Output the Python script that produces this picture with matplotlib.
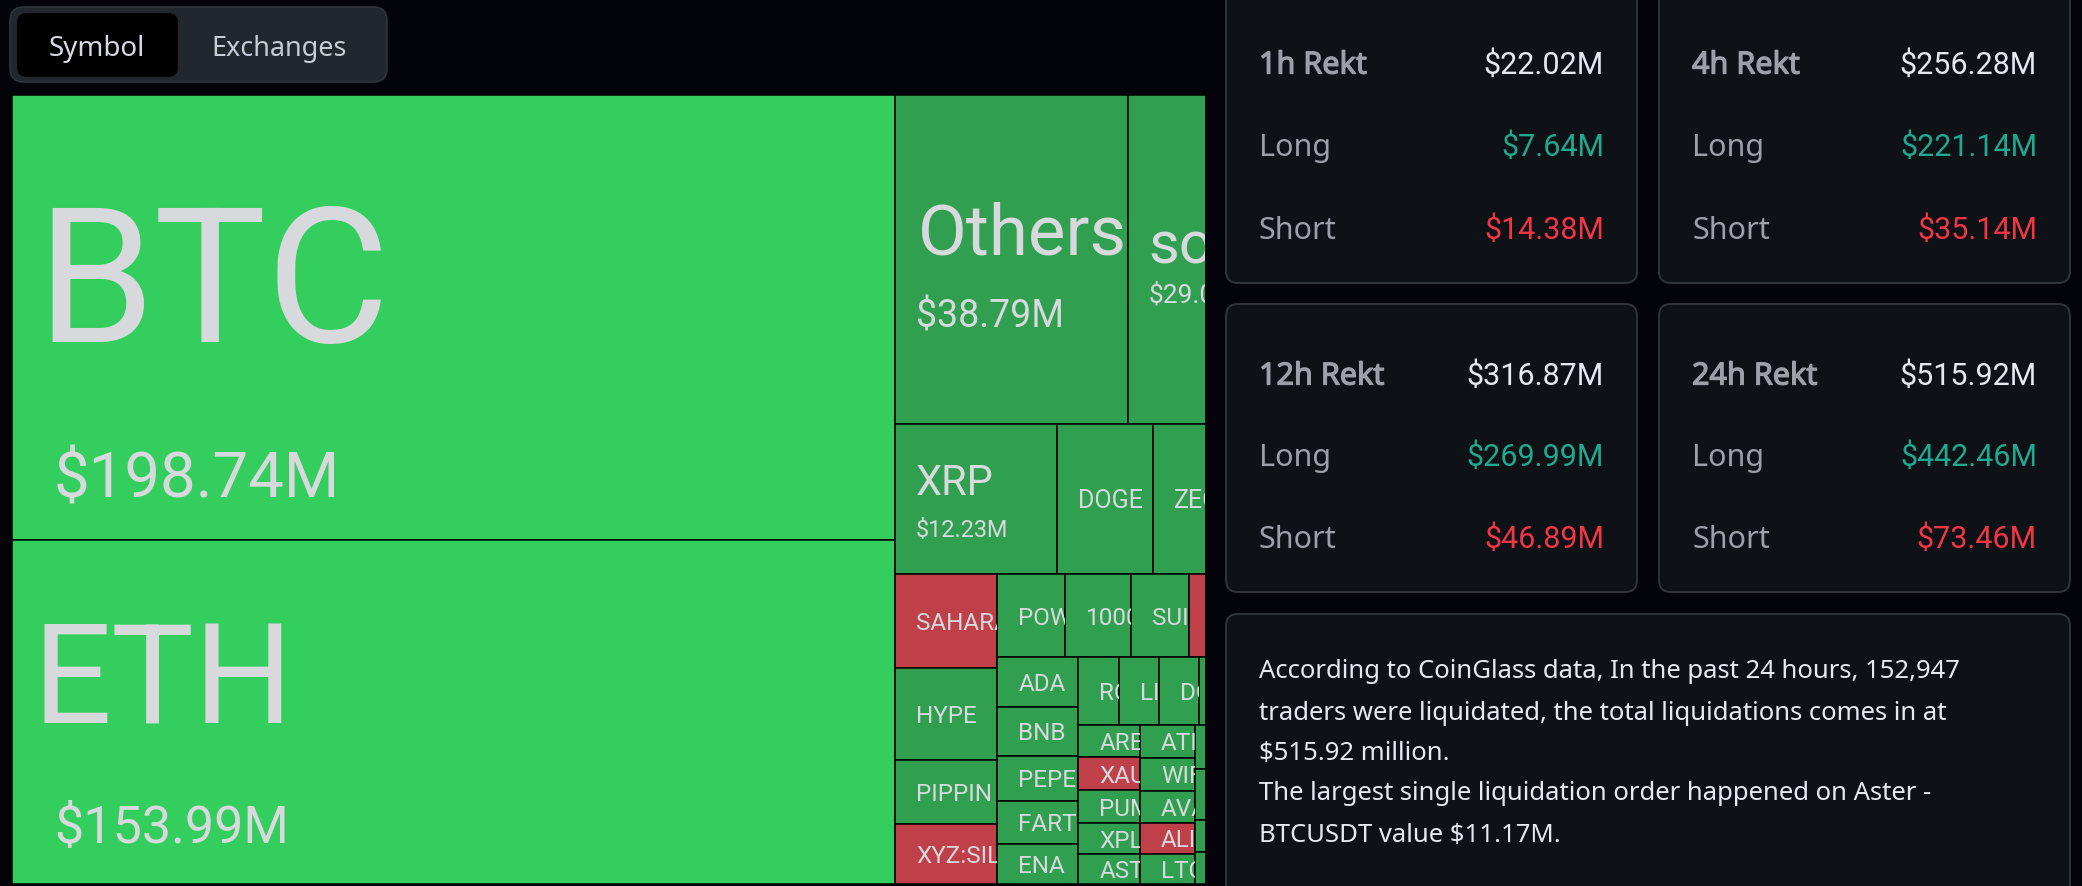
import matplotlib
matplotlib.use('Agg')
import matplotlib.pyplot as plt
import matplotlib.patheffects as pe
from matplotlib.patches import FancyBboxPatch, Rectangle

# treemap values in $M, grouped the way the layout nests them
main_names = ['BTC', 'ETH']
main_vals = [198.74, 153.99]
top_names = ['Others', 'sol']
top_vals = [38.79, 29.04]
mid_names = ['XRP', 'DOGE', 'ZEC']
mid_vals = [12.23, 7.25, 11.3]
left_names = ['SAHARA', 'HYPE', 'PIPPIN', 'XYZ:SILVER']
left_vals = [4.86, 4.75, 3.35, 3.08]
pow_names = ['POWER', '1000PEPE', 'SUI', 'cut1']
pow_vals = [2.88, 2.77, 2.5, 4.8]
ada_names = ['ADA', 'BNB', 'PEPE', 'FARTCOIN', 'ENA']
ada_vals = [2.03, 1.99, 1.85, 1.77, 1.64]
ro_names = ['ROSE', 'LINK', 'DOT', 'cut2']
ro_vals = [1.39, 1.36, 1.36, 3.5]
are_names = ['ARE', 'XAU', 'PUMP', 'XPL', 'ASTER']
are_vals = [1.02, 1.02, 1.02, 0.96, 0.93]
ati_names = ['ATI', 'WIF', 'AVAX', 'ALI', 'LTC']
ati_vals = [0.92, 0.92, 0.89, 0.86, 0.84]
tail_names = ['cut3', 'cut4', 'cut5', 'cut6']
tail_vals = [2.4, 2.8, 1.75, 1.75]

red_names = ['SAHARA', 'XYZ:SILVER', 'XAU', 'ALI', 'cut1']
bright_names = ['BTC', 'ETH']
# cells whose label lies past the cut-off edge
cut_names = ['cut1', 'cut2', 'cut3', 'cut4', 'cut5', 'cut6']

# the four summary cards
periods = ['1h Rekt', '4h Rekt', '12h Rekt', '24h Rekt']
totals = ['$22.02M', '$256.28M', '$316.87M', '$515.92M']
longs = ['$7.64M', '$221.14M', '$269.99M', '$442.46M']
shorts = ['$14.38M', '$35.14M', '$46.89M', '$73.46M']

summary_lines = [
    'According to CoinGlass data, In the past 24 hours, 152,947',
    'traders were liquidated, the total liquidations comes in at',
    '$515.92 million.',
    'The largest single liquidation order happened on Aster -',
    'BTCUSDT value $11.17M.',
]

BG = '#03040a'
CARD = '#0e1116'
CARD_EDGE = '#30343b'
BRIGHT = '#34ce5f'
GREEN = '#319f50'
RED = '#bf4049'
LABEL = '#d8d9dd'
TEAL = '#1fa98e'
SHORT_RED = '#f23645'
MUTED = '#9ca0a8'
WHITE = '#e6eaf0'
NUM_FONT = 'Roboto'
UI_FONT = 'Noto Sans'

fig = plt.figure(figsize=(20.82, 8.86), dpi=100, facecolor=BG)
ax = fig.add_axes([0, 0, 1, 1])
ax.set_xlim(0, 2082)
ax.set_ylim(886, 0)
ax.axis('off')


def cells(names, vals):
    return list(zip(names, vals))


tree = ('row', [
    ('col', cells(main_names, main_vals)),
    ('col', [
        ('row', cells(top_names, top_vals)),
        ('row', cells(mid_names, mid_vals)),
        ('row', [
            ('col', cells(left_names, left_vals)),
            ('col', [
                ('row', cells(pow_names, pow_vals)),
                ('row', [
                    ('col', cells(ada_names, ada_vals)),
                    ('col', [
                        ('row', cells(ro_names, ro_vals)),
                        ('row', [
                            ('col', cells(are_names, are_vals)),
                            ('col', cells(ati_names, ati_vals)),
                            ('col', cells(tail_names, tail_vals)),
                        ]),
                    ]),
                ]),
            ]),
        ]),
    ]),
])


def node_total(node):
    if node[0] in ('row', 'col'):
        return sum(node_total(c) for c in node[1])
    return node[1]


def layout(node, x, y, w, h, out):
    # split the rectangle in proportion to the values
    if node[0] not in ('row', 'col'):
        out[node[0]] = (x, y, w, h, node[1])
        return
    total = node_total(node)
    for child in node[1]:
        share = node_total(child) / total
        if node[0] == 'row':
            layout(child, x, y, w * share, h, out)
            x += w * share
        else:
            layout(child, x, y, w, h * share, out)
            y += h * share


# the map is wider than its panel, the right part is cut off at the edge
map_x, map_y, map_h = 12, 95, 789
map_right = 1205
px_per_million = 1976
map_w = node_total(tree) * px_per_million / map_h
view = Rectangle((map_x, map_y), map_right - map_x, map_h + 2, transform=ax.transData)

rects = {}
layout(tree, map_x, map_y, map_w, map_h, rects)

# big cells get their own label placement, (size, dx, y) for name then value
big_labels = {
    'BTC': (136, 24, 271, 45.7, 42, 474),
    'ETH': (100, 20, 671, 37.5, 42, 823),
    'Others': (51, 22, 228, 27, 21, 313),
    'sol': (43, 20, 240, 19, 20, 293),
    'XRP': (30, 20, 479, 16.8, 20, 528),
}
small_sizes = {'DOGE': 18, 'ZEC': 18}

for name, (x, y, w, h, val) in rects.items():
    color = BRIGHT if name in bright_names else RED if name in red_names else GREEN
    r = Rectangle((x, y), w, h, fc=color, ec='black', lw=1.1)
    ax.add_patch(r)
    r.set_clip_path(view)
    cell_clip = Rectangle((x, y), min(w, map_right - x), h, transform=ax.transData)
    if name in big_labels:
        s1, dx1, y1, s2, dx2, y2 = big_labels[name]
        t1 = ax.text(x + dx1, y1, name, fontsize=s1, color=LABEL, family=NUM_FONT, va='center_baseline', clip_on=True)
        t2 = ax.text(x + dx2, y2, f'${val:.2f}M', fontsize=s2, color=LABEL, family=NUM_FONT, va='center_baseline', clip_on=True)
        t1.set_clip_path(cell_clip)
        t2.set_clip_path(cell_clip)
    elif name not in cut_names:
        t = ax.text(x + 21, y + h / 2, name, fontsize=small_sizes.get(name, 17.5), color=LABEL,
                    family=NUM_FONT, va='center_baseline', clip_on=True)
        t.set_clip_path(cell_clip)

# Symbol / Exchanges toggle
ax.add_patch(FancyBboxPatch((18, 15), 361, 59, boxstyle='round,pad=8,rounding_size=14', fc='#22262d', ec='#30343b', lw=1.2))
ax.add_patch(FancyBboxPatch((21, 17), 153, 56, boxstyle='round,pad=4,rounding_size=10', fc='#000000', ec='none'))
ax.text(97, 45, 'Symbol', fontsize=20, color='#d5dbe5', family=UI_FONT, ha='center', va='center_baseline')
ax.text(279, 45, 'Exchanges', fontsize=19.4, color='#c5ccd8', family=UI_FONT, ha='center', va='center_baseline')

# summary cards
card_x = [1226, 1659, 1226, 1659]
card_y = [-20, -20, 304, 304]
card_h = [303, 303, 288, 288]
row_y = [[62, 144, 227], [62, 144, 227], [373, 454, 536], [373, 454, 536]]
# Noto Sans has no bold here, so thicken the heading with a thin stroke
heading_stroke = [pe.withStroke(linewidth=0.9, foreground=MUTED)]
for i in range(4):
    ax.add_patch(FancyBboxPatch((card_x[i] + 12, card_y[i] + 12), 411 - 24, card_h[i] - 24,
                                boxstyle='round,pad=12,rounding_size=12', fc=CARD, ec=CARD_EDGE, lw=1.4))
    left = card_x[i] + 33
    right = card_x[i] + 378
    ax.text(left, row_y[i][0], periods[i], fontsize=22, color=MUTED, family=UI_FONT, va='center_baseline',
            path_effects=heading_stroke)
    ax.text(right, row_y[i][0], totals[i], fontsize=22, color=WHITE, family=NUM_FONT, ha='right', va='center_baseline')
    ax.text(left, row_y[i][1], 'Long', fontsize=22, color=MUTED, family=UI_FONT, va='center_baseline')
    ax.text(right, row_y[i][1], longs[i], fontsize=22, color=TEAL, family=NUM_FONT, ha='right', va='center_baseline')
    ax.text(left, row_y[i][2], 'Short', fontsize=22, color=MUTED, family=UI_FONT, va='center_baseline')
    ax.text(right, row_y[i][2], shorts[i], fontsize=22, color=SHORT_RED, family=NUM_FONT, ha='right', va='center_baseline')

# text block at the bottom right
ax.add_patch(FancyBboxPatch((1238, 626), 820, 280, boxstyle='round,pad=12,rounding_size=12', fc=CARD, ec=CARD_EDGE, lw=1.4))
line_y = [668, 710, 751, 791, 832]
for yy, line in zip(line_y, summary_lines):
    ax.text(1259, yy, line, fontsize=18.5, color=WHITE, family=UI_FONT, va='center_baseline')

fig.savefig('out.png', dpi=100, facecolor=BG)
